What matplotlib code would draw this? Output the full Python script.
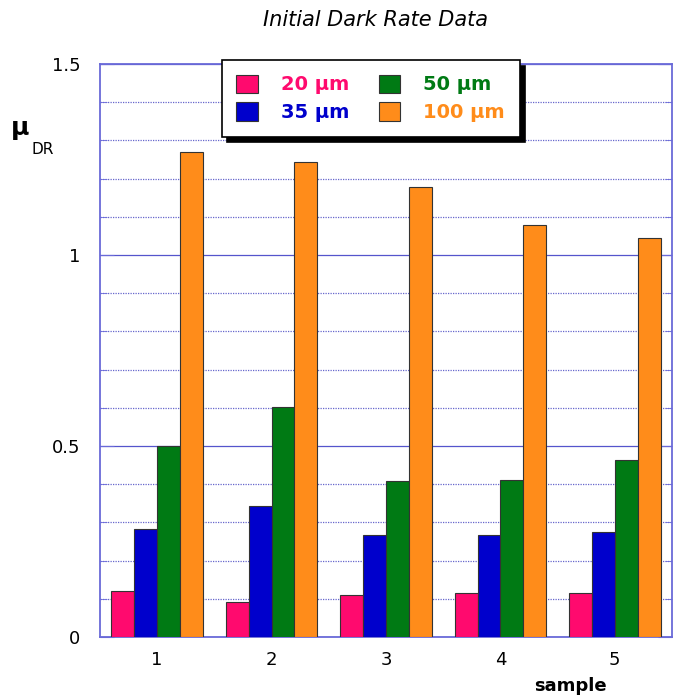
import numpy as np
import matplotlib
matplotlib.use("Agg")
from matplotlib import pyplot as plt
from matplotlib.ticker import MultipleLocator

samples = [1, 2, 3, 4, 5]
sizes = ["20 μm", "35 μm", "50 μm", "100 μm"]
mu_20 = [0.120, 0.092, 0.110, 0.115, 0.115]
mu_35 = [0.283, 0.343, 0.267, 0.267, 0.275]
mu_50 = [0.500, 0.602, 0.408, 0.411, 0.463]
mu_100 = [1.270, 1.243, 1.178, 1.078, 1.045]
colors = ["#ff0a6e", "#0000cc", "#007a14", "#ff8c1a"]

fig = plt.figure(figsize=(6.81, 7), dpi=100)
ax = fig.add_axes([0.1468, 0.09, 0.84, 0.8186])

x = np.array(samples)
w = 0.2
series = [mu_20, mu_35, mu_50, mu_100]
for i, vals in enumerate(series):
    ax.bar(x + (i - 1.5) * w, vals, width=w, color=colors[i],
           edgecolor="#333333", linewidth=0.8, label=sizes[i], zorder=3)

ax.set_xlim(0.5, 5.5)
ax.set_ylim(0, 1.5)
ax.set_xticks(samples)
ax.set_yticks([0, 0.5, 1, 1.5], ["0", "0.5", "1", "1.5"])
ax.yaxis.set_minor_locator(MultipleLocator(0.1))

# grid
ax.grid(axis="y", which="major", color="#5555cc", linewidth=0.9, zorder=0)
ax.grid(axis="y", which="minor", color="#6666cc", linewidth=0.9,
        linestyle=(0, (1, 1)), zorder=0)

for s in ax.spines.values():
    s.set_color("#6a6ad8")
    s.set_linewidth(1.3)

ax.tick_params(axis="x", length=0, labelsize=13, pad=10)
ax.tick_params(axis="y", which="both", direction="in", right=True,
               color="#6a6ad8", labelsize=13, pad=14)
ax.tick_params(axis="y", which="major", length=10)
ax.tick_params(axis="y", which="minor", length=5)

leg = ax.legend(ncol=2, loc="upper left", bbox_to_anchor=(0.213, 1.007),
                borderaxespad=0,
                fancybox=False, edgecolor="black", framealpha=1,
                prop={"weight": "bold", "size": 14},
                labelcolor=colors, handlelength=1.1, handleheight=1.1,
                columnspacing=1.5, handletextpad=1.2, borderpad=0.75,
                labelspacing=0.4,
                shadow={"color": "black", "alpha": 1, "ox": 4, "oy": -4})
leg.get_frame().set_linewidth(1.2)
leg.set_zorder(5)

fig.text(0.551, 0.971, "Initial Dark Rate Data", ha="center", va="center",
         fontsize=15, style="italic")
fig.text(0.837, 0.02, "sample", ha="center", va="center",
         fontsize=13, weight="bold")
fig.text(0.03, 0.817, "μ", ha="center", va="center", fontsize=18, weight="bold")
fig.text(0.063, 0.786, "DR", ha="center", va="center", fontsize=11)

fig.savefig("out.png", dpi=100)
